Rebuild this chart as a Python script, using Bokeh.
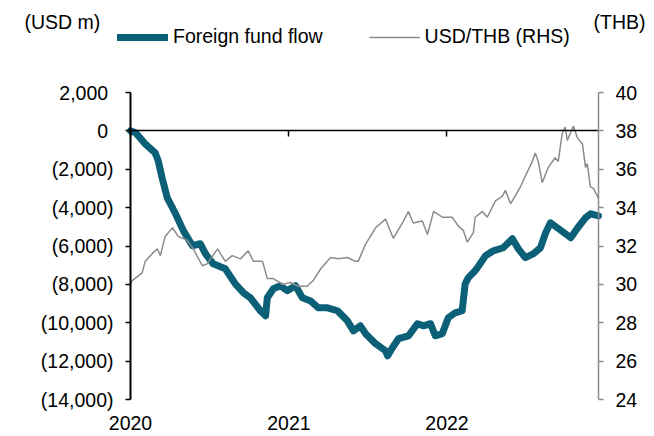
import numpy as np
import pandas as pd
from bokeh.plotting import figure
from bokeh.models import (Range1d, LinearAxis, DatetimeAxis, FixedTicker, CustomJSTickFormatter,
                          Legend, LegendItem, Label, DatetimeTickFormatter, ColumnDataSource)
from bokeh.embed import file_html
from bokeh.resources import INLINE

# ---------------- data ----------------
flow_dates = ["2020-01-01", "2020-01-13", "2020-02-04", "2020-02-27", "2020-03-05", "2020-03-14",
              "2020-03-26", "2020-04-14", "2020-05-02", "2020-05-23", "2020-06-10", "2020-06-22",
              "2020-07-10", "2020-08-07", "2020-08-30", "2020-09-18", "2020-10-04", "2020-10-27",
              "2020-11-08", "2020-11-12", "2020-11-26", "2020-12-12", "2020-12-28", "2021-01-16",
              "2021-02-01", "2021-02-19", "2021-03-10", "2021-03-31", "2021-04-23", "2021-05-16",
              "2021-05-30", "2021-06-15", "2021-06-27", "2021-07-20", "2021-08-12", "2021-08-17",
              "2021-08-28", "2021-09-11", "2021-10-04", "2021-10-25", "2021-11-08", "2021-11-24",
              "2021-12-05", "2021-12-21", "2022-01-04", "2022-01-20", "2022-02-05", "2022-02-12",
              "2022-02-19", "2022-03-07", "2022-03-12", "2022-03-31", "2022-04-18", "2022-05-11",
              "2022-06-01", "2022-06-15", "2022-07-01", "2022-07-20", "2022-08-05", "2022-08-17",
              "2022-08-28", "2022-09-16", "2022-10-14", "2022-10-30", "2022-11-17", "2022-11-29",
              "2022-12-17"]
flow_values = [0, -100, -680, -1150, -1560, -2450,
               -3490, -4320, -5200, -5990, -5880, -6400,
               -6930, -7190, -7970, -8440, -8700, -9375,
               -9640, -8700, -8230, -8070, -8330, -8070,
               -8700, -8850, -9220, -9220, -9375, -9900,
               -10420, -10160, -10570, -11090, -11460, -11720,
               -11300, -10830, -10680, -10050, -10160, -10050,
               -10680, -10570, -9740, -9480, -9375, -7970,
               -7660, -7290, -7140, -6510, -6250, -6090,
               -5625, -6150, -6610, -6400, -6090, -5310,
               -4790, -5100, -5570, -5050, -4530, -4320,
               -4430]

fx_dates = ["2020-01-01", "2020-01-05", "2020-01-28", "2020-02-04", "2020-02-20", "2020-03-03",
            "2020-03-10", "2020-03-21", "2020-04-07", "2020-04-20", "2020-05-11", "2020-05-25",
            "2020-06-15", "2020-06-26", "2020-07-20", "2020-08-07", "2020-08-23", "2020-09-11",
            "2020-09-29", "2020-10-11", "2020-11-01", "2020-11-12", "2020-11-26", "2020-12-17",
            "2021-01-04", "2021-01-23", "2021-02-12", "2021-02-26", "2021-03-15", "2021-04-07",
            "2021-04-25", "2021-05-16", "2021-06-03", "2021-06-10", "2021-06-27", "2021-07-20",
            "2021-08-12", "2021-08-30", "2021-09-20", "2021-10-04", "2021-10-15", "2021-11-05",
            "2021-11-17", "2021-12-01", "2021-12-21", "2022-01-13", "2022-01-27", "2022-02-08",
            "2022-02-17", "2022-03-03", "2022-03-07", "2022-03-24", "2022-04-04", "2022-04-23",
            "2022-05-09", "2022-05-16", "2022-05-28", "2022-06-20", "2022-07-01", "2022-07-17",
            "2022-07-24", "2022-07-31", "2022-08-09", "2022-08-23", "2022-09-08", "2022-09-15",
            "2022-09-24", "2022-10-01", "2022-10-06", "2022-10-20", "2022-10-29", "2022-11-10",
            "2022-11-17", "2022-11-21", "2022-11-28", "2022-12-05", "2022-12-17"]
fx_values = [30.0, 30.2, 30.6, 31.2, 31.6, 31.85,
             31.5, 32.5, 32.95, 32.5, 32.3, 31.85,
             30.97, 31.07, 31.85, 31.2, 31.5, 31.33,
             31.75, 31.2, 31.2, 30.3, 30.3, 30.0,
             30.1, 29.9, 29.9, 30.2, 30.8, 31.4,
             31.33, 31.4, 31.2, 31.2, 32.1, 32.95,
             33.4, 32.4, 33.2, 33.8, 33.2, 33.3,
             32.6, 33.8, 33.5, 33.5, 33.05, 32.8,
             32.2, 32.7, 33.5, 33.8, 33.5, 34.35,
             34.6, 34.9, 34.2, 35.1, 35.65, 36.4,
             36.85, 36.4, 35.3, 36.1, 36.6, 36.4,
             37.85, 38.2, 37.5, 38.25, 37.65, 37.3,
             36.1, 36.3, 35.1, 35.0, 34.5]

left_ticks = [2000, 0, -2000, -4000, -6000, -8000, -10000, -12000, -14000]
right_ticks = [40, 38, 36, 34, 32, 30, 28, 26, 24]
year_ticks = ["2020-01-01", "2021-01-01", "2022-01-01"]
x_start, x_end = "2020-01-01", "2022-12-17"

series_names = ["Foreign fund flow", "USD/THB (RHS)"]
left_unit = "(USD m)"
right_unit = "(THB)"

# ---------------- layout / styling ----------------
FONT = "Liberation Sans"
FS = "19.5px"
TEAL = "#0b5f76"
GREY = "#8c8c8c"
W, H = 654, 436
PL, PR, PT, PB = 130, 598, 92, 399     # pixel box of the axes area

def ms(d):
    return pd.Timestamp(d).timestamp() * 1000

def extend(lo, hi, p_lo, p_hi, total, flip=False):
    """range so that [lo, hi] lands on pixels [p_lo, p_hi] of a canvas of size total"""
    per = (hi - lo) / (p_hi - p_lo)
    if flip:   # vertical: p_lo is the pixel of hi (top), p_hi the pixel of lo (bottom)
        return lo - (total - p_hi) * per, hi + p_lo * per
    return lo - p_lo * per, hi + (total - p_hi) * per

xs, xe = ms(x_start), ms(x_end)
x0, x1 = extend(xs, xe, PL, PR, W)
ly0, ly1 = extend(min(left_ticks), max(left_ticks), PT, PB, H, flip=True)
ry0, ry1 = extend(min(right_ticks), max(right_ticks), PT, PB, H, flip=True)

flow_src = ColumnDataSource(dict(x=pd.to_datetime(flow_dates), y=flow_values))
fx_src = ColumnDataSource(dict(x=pd.to_datetime(fx_dates), y=fx_values))
year_ms = [ms(d) for d in year_ticks]

p = figure(width=W, height=H, x_range=Range1d(x0, x1), y_range=Range1d(ly0, ly1),
           x_axis_location=None, y_axis_location=None,
           output_backend="svg", toolbar_location=None,
           min_border_left=0, min_border_right=0, min_border_top=0, min_border_bottom=0)
p.outline_line_color = None
p.grid.visible = False
p.background_fill_color = "white"
p.border_fill_color = "white"
p.extra_y_ranges = {"fx": Range1d(ry0, ry1)}

r_flow = p.line("x", "y", source=flow_src, line_color=TEAL, line_width=7,
                line_join="round", line_cap="round")
r_fx = p.line("x", "y", source=fx_src, y_range_name="fx", line_color=GREY, line_width=1.5)

def style_labels(ax):
    ax.major_label_text_font = FONT
    ax.major_label_text_font_size = FS
    ax.major_label_text_color = "black"
    ax.minor_tick_line_color = None

# left axis
la = LinearAxis(fixed_location=xs, bounds=(min(left_ticks), max(left_ticks)),
                ticker=FixedTicker(ticks=left_ticks))
la.formatter = CustomJSTickFormatter(code="""
    const a = Math.abs(tick).toLocaleString('en-US');
    return tick < 0 ? '(' + a + ')' : a + '\u2008';
""")
la.axis_line_color = "black"
la.axis_line_width = 2
la.major_tick_line_color = "black"
la.major_tick_line_width = 1.5
la.major_tick_out = 5
la.major_tick_in = 0
la.major_label_standoff = 12
style_labels(la)
p.add_layout(la, "left")

# right axis
ra = LinearAxis(y_range_name="fx", fixed_location=xe,
                bounds=(min(right_ticks), max(right_ticks)),
                ticker=FixedTicker(ticks=right_ticks))
ra.axis_line_color = GREY
ra.axis_line_width = 1.5
ra.major_tick_line_color = GREY
ra.major_tick_line_width = 1.5
ra.major_tick_out = 5
ra.major_tick_in = 0
ra.major_label_standoff = 12
style_labels(ra)
p.add_layout(ra, "right")

# zero line with year ticks
za = DatetimeAxis(fixed_location=0, bounds=(xs, xe), ticker=FixedTicker(ticks=year_ms))
za.formatter = CustomJSTickFormatter(code="return ''")
za.axis_line_color = "black"
za.axis_line_width = 1.5
za.major_tick_line_color = "black"
za.major_tick_line_width = 1.5
za.major_tick_out = 6
za.major_tick_in = 0
style_labels(za)
p.add_layout(za, "below")

# year labels at the bottom
xa = DatetimeAxis(fixed_location=min(left_ticks), ticker=FixedTicker(ticks=year_ms))
xa.formatter = DatetimeTickFormatter(years="%Y", months="%Y", days="%Y", hours="%Y")
xa.axis_line_color = None
xa.major_tick_line_color = None
xa.major_tick_out = 0
xa.major_tick_in = 0
xa.major_label_standoff = 16
style_labels(xa)
p.add_layout(xa, "below")

# legend and unit labels (screen units are relative to the frame = whole canvas)
legend = Legend(items=[LegendItem(label=series_names[0], renderers=[r_flow]),
                       LegendItem(label=series_names[1], renderers=[r_fx])],
                location=(117, H - 48), orientation="horizontal",
                glyph_width=51, glyph_height=20, label_height=20, label_standoff=5, spacing=46,
                padding=0, margin=0, border_line_color=None, background_fill_alpha=0,
                label_text_font=FONT, label_text_font_size=FS, label_text_color="black")
p.add_layout(legend)
p.add_layout(Label(x=24, y=H - 21, x_units="screen", y_units="screen", text=left_unit,
                   text_baseline="middle", text_font=FONT, text_font_size=FS,
                   text_color="black"))
p.add_layout(Label(x=645, y=H - 21, x_units="screen", y_units="screen", text=right_unit,
                   text_align="right", text_baseline="middle", text_font=FONT,
                   text_font_size=FS, text_color="black"))

open("out.html", "w").write(file_html(p, INLINE))
